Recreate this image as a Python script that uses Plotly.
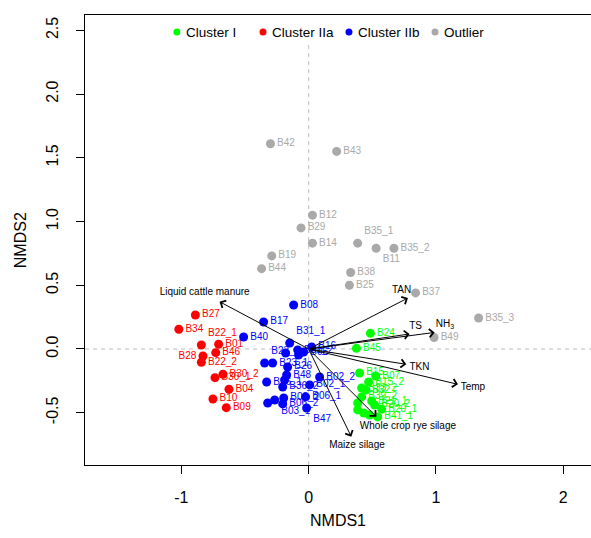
import plotly.graph_objects as go

FONT = "Liberation Sans, Arial, Helvetica, sans-serif"

# ---------------- data (NMDS site scores) ----------------
c1_labels = ["B24", "B45", "B15", "B07", "B15_2", "B33_2", "B32", "B39_2", "B21_1", "",
             "B20_2", "B20_1", "B41_1", "", "", ""]
c1_x = [0.485, 0.375, 0.40, 0.526, 0.471, 0.416, 0.448, 0.416, 0.495, 0.385,
        0.518, 0.573, 0.542, 0.385, 0.432, 0.479]
c1_y = [0.123, 0.005, -0.188, -0.212, -0.259, -0.306, -0.322, -0.376, -0.408, -0.424,
        -0.439, -0.471, -0.533, -0.478, -0.502, -0.518]
c1_pos = ["middle right"] * 16

c2a_labels = ["B27", "B34", "B22_1", "B01", "B28", "B46", "B22_2", "B30_2", "B30_1",
              "B04", "B10", "B09"]
c2a_x = [-0.89, -1.02, -0.843, -0.707, -0.83, -0.73, -0.843, -0.673, -0.736,
         -0.626, -0.752, -0.647]
c2a_y = [0.267, 0.155, 0.031, 0.037, -0.055, -0.029, -0.104, -0.198, -0.225,
         -0.316, -0.392, -0.46]
c2a_pos = ["middle right", "middle right", "top right", "middle right", "middle left",
           "middle right", "middle right", "middle right", "middle right",
           "middle right", "middle right", "middle right"]

c2b_labels = ["B08", "B17", "B40", "B31_1", "B16", "B05", "", "B31_2", "B23_1", "B23_2",
              "B26", "B48", "", "B36_1", "B36_2", "B02_2", "B02_1", "B06_1", "B03_2",
              "B06_2", "B03_1", "", "B47", ""]
c2b_x = [-0.118, -0.354, -0.511, -0.149, 0.024, -0.039, -0.181, -0.086, -0.283, -0.346,
         -0.165, -0.173, -0.189, -0.33, -0.204, 0.086, 0.008, -0.024, -0.196,
         -0.204, -0.267, -0.322, -0.016, -0.079]
c2b_y = [0.345, 0.212, 0.094, 0.047, 0.016, -0.024, -0.031, -0.008, -0.11, -0.11,
         -0.141, -0.204, -0.243, -0.259, -0.298, -0.22, -0.282, -0.376, -0.384,
         -0.431, -0.40, -0.424, -0.463, -0.047]
c2b_pos = ["middle right", "middle right", "middle right", "top right", "middle right",
           "middle right", "middle right", "middle right", "middle right", "top right",
           "middle right", "middle right", "middle right", "middle right", "middle right",
           "middle right", "middle right", "middle right", "middle right",
           "middle right", "bottom right", "middle right", "bottom right", "middle right"]

out_labels = ["B42", "B43", "B12", "B29", "B14", "B35_1", "B11", "B35_2", "B19", "B44",
              "B38", "B25", "B37", "B35_3", "B49"]
out_x = [-0.30, 0.22, 0.03, -0.06, 0.03, 0.385, 0.53, 0.67, -0.29, -0.37,
         0.33, 0.32, 0.84, 1.335, 0.985]
out_y = [1.61, 1.55, 1.05, 0.95, 0.83, 0.83, 0.79, 0.79, 0.73, 0.63,
         0.60, 0.50, 0.44, 0.243, 0.09]
out_pos = ["middle right"] * 5 + ["top right", "bottom right"] + ["middle right"] * 8

# environmental fitting vectors
vec_names = ["Liquid cattle manure", "TAN", "TS", "NH<sub>3</sub>", "TKN", "Temp",
             "Whole crop rye silage", "Maize silage"]
vec_x = [-0.70, 0.78, 0.793, 0.99, 0.767, 1.173, 0.532, 0.335]
vec_y = [0.371, 0.40, 0.118, 0.13, -0.12, -0.277, -0.531, -0.688]
vec_lab_x = [-0.817, 0.73, 0.84, 1.07, 0.87, 1.29, 0.78, 0.38]
vec_lab_y = [0.44, 0.46, 0.175, 0.19, -0.147, -0.30, -0.61, -0.76]

x_ticks = [-1, 0, 1, 2]
y_ticks = [-0.5, 0.0, 0.5, 1.0, 1.5, 2.0, 2.5]

groups = [
    ("Cluster I", "#00FF00", c1_x, c1_y, c1_labels, c1_pos),
    ("Cluster IIa", "#FF0000", c2a_x, c2a_y, c2a_labels, c2a_pos),
    ("Cluster IIb", "#0000FF", c2b_x, c2b_y, c2b_labels, c2b_pos),
    ("Outlier", "#A9A9A9", out_x, out_y, out_labels, out_pos),
]

fig = go.Figure()

for name, col, xs, ys, labs, pos in groups:
    fig.add_trace(go.Scatter(
        x=xs, y=ys, mode="markers+text", text=labs, textposition=pos,
        marker=dict(size=9, color=col, line=dict(width=0)),
        textfont=dict(family=FONT, size=10, color=col),
        name=name, showlegend=False, hoverinfo="skip", cliponaxis=False))

# vector labels
fig.add_trace(go.Scatter(
    x=vec_lab_x, y=vec_lab_y, mode="text", text=vec_names, textposition="middle center",
    textfont=dict(family=FONT, size=10, color="black"), showlegend=False, hoverinfo="skip"))

annotations = []
for vx, vy in zip(vec_x, vec_y):
    annotations.append(dict(
        x=vx, y=vy, ax=0, ay=0, xref="x", yref="y", axref="x", ayref="y",
        text="", showarrow=True, arrowhead=4, arrowsize=1.6, arrowwidth=1,
        arrowcolor="black", standoff=0, startstandoff=0))

# axis titles
annotations.append(dict(text="NMDS1", xref="paper", yref="paper", x=0.5, y=-0.124,
                        xanchor="center", yanchor="middle", showarrow=False,
                        font=dict(family=FONT, size=16, color="black")))
annotations.append(dict(text="NMDS2", xref="paper", yref="paper", x=-0.128, y=0.5,
                        xanchor="center", yanchor="middle", showarrow=False, textangle=-90,
                        font=dict(family=FONT, size=16, color="black")))

shapes = [
    dict(type="line", xref="x", yref="paper", x0=0, x1=0, y0=0, y1=0.938,
         line=dict(color="#BEBEBE", width=1, dash="4px,4px"), layer="below"),
    dict(type="line", xref="paper", yref="y", x0=0, x1=1, y0=0, y1=0,
         line=dict(color="#BEBEBE", width=1, dash="4px,4px"), layer="below"),
]

# legend (top, horizontal)
leg_y = 0.962
leg_dot_x = [0.1816, 0.3518, 0.5217, 0.6917]
for (name, col, *_), lx in zip(groups, leg_dot_x):
    shapes.append(dict(type="circle", xref="paper", yref="paper",
                       xsizemode="pixel", ysizemode="pixel", xanchor=lx, yanchor=leg_y,
                       x0=-3.5, x1=3.5, y0=-3.5, y1=3.5,
                       fillcolor=col, line=dict(width=0)))
    annotations.append(dict(text=name, xref="paper", yref="paper", x=lx, y=leg_y,
                            xshift=7, xanchor="left", yanchor="middle", showarrow=False,
                            font=dict(family=FONT, size=13.5, color="black")))

fig.update_layout(
    width=591, height=538,
    margin=dict(l=85, r=0, t=15, b=73, autoexpand=False),
    paper_bgcolor="white", plot_bgcolor="white",
    showlegend=False,
    annotations=annotations, shapes=shapes,
    xaxis=dict(range=[-1.757, 2.218], tickvals=x_ticks, ticktext=[str(v) for v in x_ticks],
               showgrid=False, zeroline=False, showline=True, mirror=True,
               linecolor="black", linewidth=1, ticks="outside", ticklen=8,
               tickcolor="black", ticklabelstandoff=10, automargin=False,
               tickfont=dict(family=FONT, size=16, color="black")),
    yaxis=dict(range=[-0.910, 2.620], tickvals=y_ticks,
               ticktext=["%.1f" % v for v in y_ticks],
               showgrid=False, zeroline=False, showline=True, mirror=False,
               linecolor="black", linewidth=1, ticks="outside", ticklen=8,
               tickcolor="black", tickangle=-90, ticklabelstandoff=12, automargin=False,
               tickfont=dict(family=FONT, size=16, color="black")),
)

fig.write_html("out.html", config={"displayModeBar": False},
               post_script="document.body.style.margin='0';document.body.style.overflow='hidden';")
